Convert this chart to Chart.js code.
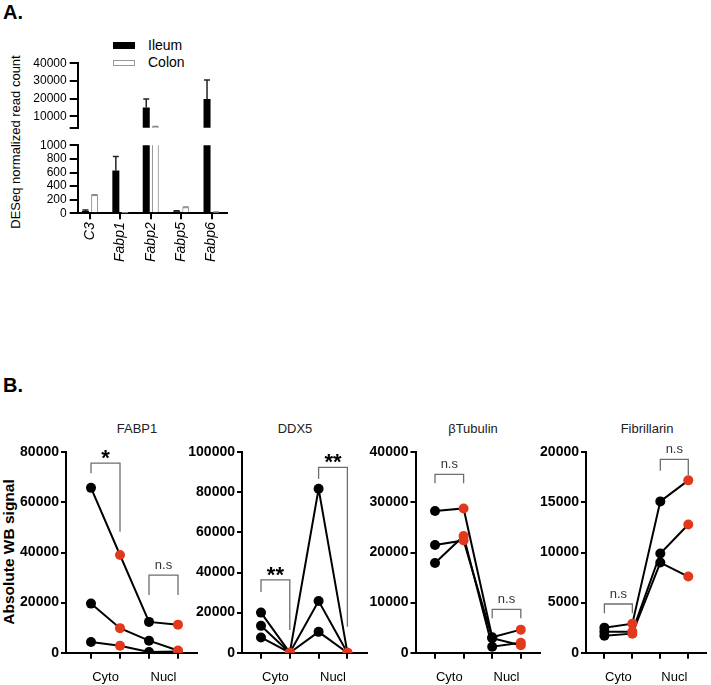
<!DOCTYPE html>
<html>
<head>
<meta charset="utf-8">
<script src="https://cdn.jsdelivr.net/npm/chart.js@4.4.1/dist/chart.umd.min.js"></script>
<style>
  body { margin: 0; background: #fff; }
  #page { position: relative; width: 711px; height: 685px; overflow: hidden; font-family: "Liberation Sans", Arial, sans-serif; color: #000; }
  #page canvas { position: absolute; }
  .txt { position: absolute; white-space: nowrap; line-height: 1; }
  .panel { font-weight: bold; font-size: 20px; }
  .title { font-size: 13px; transform: translate(-50%, -50%); color: #222; }
  .ytitle { transform: translate(-50%, -50%) rotate(-90deg); }
  .key { position: absolute; width: 22px; box-sizing: border-box; }
</style>
</head>
<body>
<div id="page">
  <div class="txt panel" style="left:3px;top:2px">A.</div>
  <div class="txt panel" style="left:3px;top:375px">B.</div>

  <div class="txt ytitle" style="left:15px;top:142px;font-size:13px">DESeq normalized read count</div>
  <div class="key" style="left:113px;top:42px;height:7px;background:#000"></div>
  <div class="txt" style="left:148px;top:38px;font-size:14px">Ileum</div>
  <div class="key" style="left:113px;top:60px;height:6px;border:1px solid #999;background:#fff"></div>
  <div class="txt" style="left:148px;top:55px;font-size:14px">Colon</div>

  <div class="txt ytitle" style="left:9px;top:552px;font-size:15.5px;font-weight:bold">Absolute WB signal</div>
  <div class="txt title" style="left:137px;top:428px">FABP1</div>
  <div class="txt title" style="left:295px;top:428px">DDX5</div>
  <div class="txt title" style="left:473px;top:428px">&beta;Tubulin</div>
  <div class="txt title" style="left:647px;top:428px">Fibrillarin</div>
</div>

<script>
// ---- panel A: RNA-seq counts ----
const genes = ['C3', 'Fabp1', 'Fabp2', 'Fabp5', 'Fabp6'];
const ileumCounts = [35, 630, 14900, 30, 19800];
const ileumErr = [15, 205, 4800, 6, 10800];
const colonCounts = [268, 5, 4100, 88, 15];
const colonErr = [6, 2, 150, 4, 3];
const upperTicks = [3500, 10000, 20000, 30000, 40000];
const lowerTicks = [0, 200, 400, 600, 800, 1000];

// ---- panel B: western blot signal, 3 samples each, order Cyto-black, Cyto-red, Nucl-black, Nucl-red ----
const fractions = ['Cyto', 'Nucl'];
const fabp1 = [[65800, 39000, 12300, 11200], [19600, 9800, 4800, 900], [4300, 2800, 300, 500]];
const ddx5 = [[20000, 0, 81800, 0], [13400, 0, 25800, 0], [7600, 0, 10400, 0]];
const tubulin = [[28300, 28800, 3100, 4600], [21500, 22400, 2900, 1500], [17900, 23300, 1200, 2000]];
const fibrillarin = [[2500, 2900, 15100, 17200], [2100, 2100, 9900, 12800], [1700, 1900, 9000, 7600]];

// significance brackets: from/to point index, top and leg ends in data units
const fabp1Sig = [{ from: 0, to: 1, top: 75700, left: 71600, right: 48300, label: '*' },
                  { from: 2, to: 3, top: 31000, left: 23000, right: 23000, label: 'n.s' }];
const ddx5Sig = [{ from: 0, to: 1, top: 36300, left: 30300, right: 11300, label: '**' },
                 { from: 2, to: 3, top: 92500, left: 86700, right: 13000, label: '**' }];
const tubulinSig = [{ from: 0, to: 1, top: 35600, left: 33800, right: 33800, label: 'n.s' },
                    { from: 2, to: 3, top: 8660, left: 6870, right: 6870, label: 'n.s' }];
const fibrillarinSig = [{ from: 0, to: 1, top: 4860, left: 3930, right: 3930, label: 'n.s' },
                        { from: 2, to: 3, top: 19300, left: 18160, right: 17740, label: 'n.s' }];

const FONT = '"Liberation Sans", Arial, sans-serif';
Chart.defaults.font.family = FONT;
Chart.defaults.color = '#000';
Chart.defaults.animation = false;
Chart.defaults.plugins.legend.display = false;
Chart.defaults.plugins.tooltip.enabled = false;

const page = document.getElementById('page');
function makeCanvas(left, top, w, h) {
  const c = document.createElement('canvas');
  c.width = w; c.height = h;
  c.style.left = left + 'px'; c.style.top = top + 'px';
  page.appendChild(c);
  return c.getContext('2d');
}

const errorBars = {
  id: 'errorBars',
  afterDatasetsDraw(chart) {
    const { ctx, chartArea: a, scales: { y } } = chart;
    ctx.save();
    ctx.beginPath();
    ctx.rect(a.left, a.top, a.right - a.left, a.bottom - a.top);
    ctx.clip();
    chart.data.datasets.forEach((ds, i) => {
      chart.getDatasetMeta(i).data.forEach((bar, j) => {
        const v = ds.data[j].y;
        const y0 = y.getPixelForValue(v);
        const y1 = y.getPixelForValue(v + ds.errors[j]);
        ctx.strokeStyle = ds.errColor;
        ctx.lineWidth = 1.5;
        ctx.beginPath();
        ctx.moveTo(bar.x, y0); ctx.lineTo(bar.x, y1);
        ctx.moveTo(bar.x - 3, y1); ctx.lineTo(bar.x + 3, y1);
        ctx.stroke();
      });
    });
    ctx.restore();
  }
};

function barData() {
  return [
    { data: ileumCounts.map((v, i) => ({ x: i, y: v })), errors: ileumErr, errColor: '#222',
      backgroundColor: '#000', borderWidth: 0, clip: 0,
      categoryPercentage: 0.6, barPercentage: 0.77 },
    { data: colonCounts.map((v, i) => ({ x: i, y: v })), errors: colonErr, errColor: '#888',
      backgroundColor: '#fff', borderColor: '#9a9a9a', borderWidth: 1.2, clip: 0,
      categoryPercentage: 0.6, barPercentage: 0.77 }
  ];
}

const axisA = { display: true, drawOnChartArea: false, color: '#000', lineWidth: 2, tickLength: 8 };
const xMinA = -0.405, xMaxA = 4.507;

// upper segment of the broken axis
new Chart(makeCanvas(0, 50, 240, 90), {
  type: 'bar',
  data: { datasets: barData() },
  options: {
    responsive: false,
    layout: { padding: { top: 13.3, right: 13, bottom: 12.3, left: 0 } },
    scales: {
      x: { type: 'linear', display: false, min: xMinA, max: xMaxA, offset: false, grid: { offset: false } },
      y: {
        min: 3500, max: 40000,
        afterBuildTicks: ax => { ax.ticks = upperTicks.map(v => ({ value: v })); },
        afterFit: s => { s.width = 77.7; },
        border: { color: '#000', width: 2 },
        grid: axisA,
        ticks: { font: { size: 12 }, padding: 3, autoSkip: false,
                 callback: v => v === upperTicks[0] ? '' : String(v) }
      }
    }
  },
  plugins: [errorBars]
});

// lower segment with gene labels
new Chart(makeCanvas(0, 130, 240, 150), {
  type: 'bar',
  data: { datasets: barData() },
  options: {
    responsive: false,
    layout: { padding: { top: 15.3, right: 13, bottom: 0, left: 0 } },
    scales: {
      x: {
        type: 'linear', min: xMinA, max: xMaxA, offset: false,
        afterBuildTicks: ax => { ax.ticks = genes.map((g, i) => ({ value: i })); },
        afterFit: s => { s.height = 66.7; },
        border: { color: '#000', width: 2 },
        grid: { display: true, drawOnChartArea: false, color: '#000', lineWidth: 2, tickLength: 6, offset: false },
        ticks: { font: { size: 14, style: 'italic' }, padding: 3, minRotation: 90, maxRotation: 90, autoSkip: false,
                 callback: v => genes[v] }
      },
      y: {
        min: 0, max: 1000,
        afterBuildTicks: ax => { ax.ticks = lowerTicks.map(v => ({ value: v })); },
        afterFit: s => { s.width = 77.7; },
        border: { color: '#000', width: 2 },
        grid: axisA,
        ticks: { font: { size: 12 }, padding: 3, autoSkip: false, callback: v => String(v) }
      }
    }
  },
  plugins: [errorBars]
});

// ---- panel B ----
function bracketPlugin(list) {
  return {
    id: 'brackets',
    afterDatasetsDraw(chart) {
      const { ctx, scales: { x, y } } = chart;
      ctx.save();
      ctx.strokeStyle = '#6e6e6e';
      ctx.lineWidth = 1.3;
      list.forEach(b => {
        const x1 = x.getPixelForValue(b.from), x2 = x.getPixelForValue(b.to);
        const yt = y.getPixelForValue(b.top);
        ctx.beginPath();
        ctx.moveTo(x1, y.getPixelForValue(b.left));
        ctx.lineTo(x1, yt);
        ctx.lineTo(x2, yt);
        ctx.lineTo(x2, y.getPixelForValue(b.right));
        ctx.stroke();
        const star = b.label[0] === '*';
        ctx.font = star ? 'bold 22px ' + FONT : '13px ' + FONT;
        ctx.fillStyle = star ? '#000' : '#333';
        ctx.textAlign = 'center';
        ctx.textBaseline = 'alphabetic';
        const m = ctx.measureText(b.label);
        ctx.fillText(b.label, (x1 + x2) / 2, yt - (star ? 4 : 6) - m.actualBoundingBoxDescent);
      });
      ctx.restore();
    }
  };
}

const RED = '#e2391d';
function wbChart(samples, sig, cfg) {
  const yw = 60;
  const left = Math.round(cfg.axisX - yw);
  const right = cfg.axisEnd + cfg.padR;
  const w = Math.ceil(right - left);
  const xmin = -(cfg.t0 - cfg.axisX) / cfg.sp;
  const xmax = xmin + (cfg.axisEnd - cfg.axisX) / cfg.sp;
  new Chart(makeCanvas(left, 420, w, 265), {
    type: 'line',
    data: {
      datasets: samples.map(s => ({
        data: s.map((v, i) => ({ x: i, y: v })),
        borderColor: '#000', borderWidth: 2, tension: 0,
        pointRadius: 5, pointBorderWidth: 0,
        pointBackgroundColor: ['#000', RED, '#000', RED],
        pointBorderColor: ['#000', RED, '#000', RED]
      }))
    },
    options: {
      responsive: false,
      layout: { padding: { top: 32.3, right: w - (cfg.axisEnd - left), bottom: 0, left: cfg.axisX - yw - left } },
      scales: {
        x: {
          type: 'linear', min: xmin, max: xmax, offset: false, weight: 0,
          afterBuildTicks: ax => { ax.ticks = [0, 1, 2, 3].map(v => ({ value: v })); },
          afterFit: s => { s.height = 8; },
          border: { color: '#000', width: 2 },
          grid: { display: true, drawOnChartArea: false, color: '#000', lineWidth: 2, tickLength: 6, offset: false },
          ticks: { callback: () => '', padding: 0, autoSkip: false }
        },
        x2: {
          type: 'linear', position: 'bottom', min: xmin, max: xmax, offset: false, weight: 1,
          afterBuildTicks: ax => { ax.ticks = [0.5, 2.5].map(v => ({ value: v })); },
          afterFit: s => { s.height = 24.3; },
          border: { display: false },
          grid: { display: false, drawTicks: false, tickLength: 0 },
          ticks: { font: { size: 13 }, padding: 8.5, autoSkip: false, callback: v => fractions[v < 1.5 ? 0 : 1] }
        },
        y: {
          min: 0, max: cfg.yMax,
          afterFit: s => { s.width = yw; },
          border: { color: '#000', width: 2 },
          grid: { display: true, drawOnChartArea: false, color: '#000', lineWidth: 2, tickLength: 5 },
          ticks: { stepSize: cfg.step, font: { size: 14, weight: 'bold' }, padding: 2, autoSkip: false,
                   callback: v => String(v) }
        }
      }
    },
    plugins: [bracketPlugin(sig)]
  });
}

wbChart(fabp1, fabp1Sig, { axisX: 66, t0: 91, sp: 29, axisEnd: 197, padR: 10, yMax: 80000, step: 20000 });
wbChart(ddx5, ddx5Sig, { axisX: 242, t0: 261, sp: 28.8, axisEnd: 366.7, padR: 10, yMax: 100000, step: 20000 });
wbChart(tubulin, tubulinSig, { axisX: 415.5, t0: 435, sp: 28.6, axisEnd: 540, padR: 10, yMax: 40000, step: 10000 });
wbChart(fibrillarin, fibrillarinSig, { axisX: 586, t0: 605, sp: 28.9, axisEnd: 710, padR: 1, yMax: 20000, step: 5000 });
</script>
</body>
</html>
